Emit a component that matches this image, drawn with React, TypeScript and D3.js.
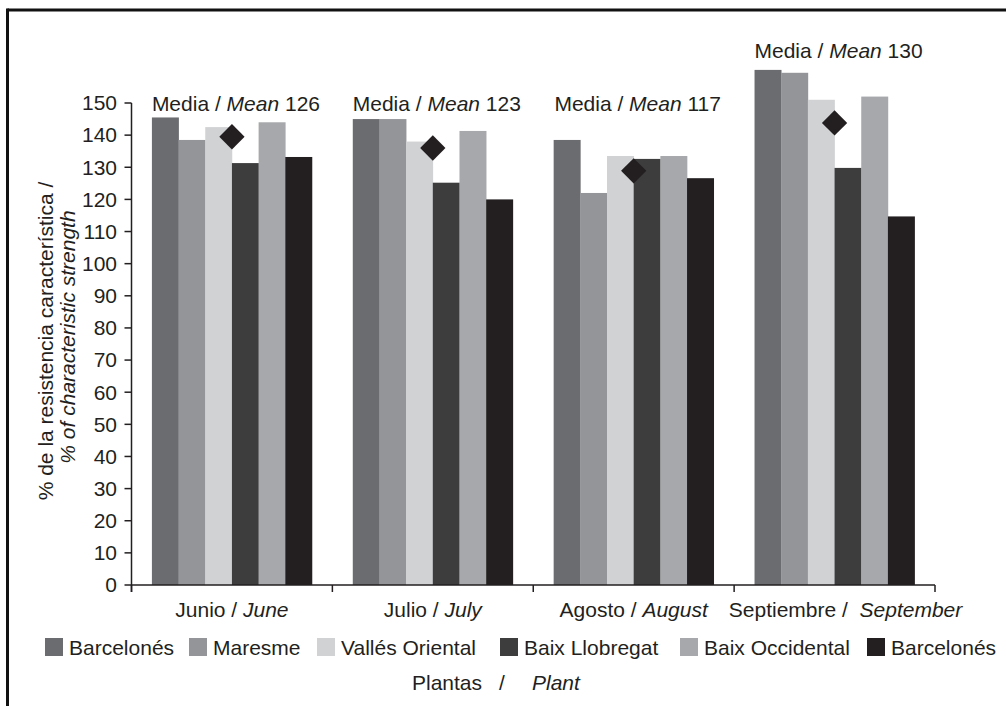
import React from "react";
import * as d3 from "d3";

const months = ["Junio", "Julio", "Agosto", "Septiembre"];
const monthsEs = ["Junio /", "Julio /", "Agosto /", "Septiembre /"];
const monthsEn = ["June", "July", "August", "September"];
const seriesNames = ["Barcelonés", "Maresme", "Vallés Oriental", "Baix Llobregat", "Baix Occidental", "Barcelonés"];
const seriesColors = ["#6b6c70", "#949598", "#d1d2d4", "#3d3d3e", "#a7a8ab", "#231f20"];
const barcelones1 = [145.5, 145, 138.5, 160.3];
const maresme = [138.5, 145, 122, 159.4];
const vallesOriental = [142.5, 138, 133.5, 151];
const baixLlobregat = [131.3, 125.2, 132.6, 129.8];
const baixOccidental = [144, 141.3, 133.5, 152];
const barcelones2 = [133.2, 120, 126.6, 114.7];
const seriesValues = [barcelones1, maresme, vallesOriental, baixLlobregat, baixOccidental, barcelones2];
const meanMarker = [139.5, 136, 128.9, 143.8];
const meanLabels = [126, 123, 117, 130];
const yTicks = d3.range(0, 151, 10);

const W = 1006, H = 706;
const FONT = "'Liberation Sans', Arial, Helvetica, sans-serif";
const FS = 21;
const INK = "#231f20";
const plot = { left: 131.5, right: 935, top: 103, bottom: 585 };
const legendX = [45, 189, 317, 500, 680, 867];

export default function App() {
  const x0 = d3.scaleBand<string>().domain(months).range([plot.left, plot.right]).padding(0);
  const x1 = d3.scaleBand<number>().domain(d3.range(seriesNames.length)).range([0, x0.bandwidth()]).paddingInner(0).paddingOuter(0.765);
  const y = d3.scaleLinear().domain([0, 150]).range([plot.bottom, plot.top]);
  const diamond = d3.symbol().type(d3.symbolSquare).size(320)();
  const boundaries = [...months.map((m) => x0(m) as number), plot.right];

  return (
    <svg width={W} height={H} style={{ position: "absolute", left: 0, top: 0, background: "#fff" }} fontFamily={FONT}>
      <rect x={0} y={0} width={W} height={H} fill="#fff" />
      {/* frame */}
      <line x1={7.5} y1={10} x2={W} y2={10} stroke="#111" strokeWidth={3} />
      <line x1={7.5} y1={8.5} x2={7.5} y2={H} stroke="#111" strokeWidth={3} />

      {/* bars */}
      {months.map((m, gi) => (
        <g key={m} transform={`translate(${x0(m)},0)`}>
          {seriesValues.map((vals, si) => (
            <rect key={si} x={x1(si)} y={y(vals[gi])} width={x1.bandwidth() + 0.3} height={y(0) - y(vals[gi])} fill={seriesColors[si]} />
          ))}
        </g>
      ))}

      {/* mean markers */}
      {months.map((m, gi) => (
        <path key={m} d={diamond as string} fill={INK}
          transform={`translate(${(x0(m) as number) + x0.bandwidth() / 2},${y(meanMarker[gi])}) rotate(45)`} />
      ))}

      {/* mean labels */}
      {months.map((m, gi) => {
        const mx = d3.max(seriesValues, (s) => s[gi]) as number;
        const by = mx > 150 ? y(mx) - 12 : y(150) + 8;
        return (
          <text key={m} x={(x0(m) as number) + x0.bandwidth() / 2 + 4} y={by} textAnchor="middle" fontSize={FS} fill={INK}>
            Media / <tspan fontStyle="italic">Mean</tspan> {meanLabels[gi]}
          </text>
        );
      })}

      {/* y axis */}
      <line x1={plot.left} y1={y(150)} x2={plot.left} y2={plot.bottom + 7} stroke={INK} strokeWidth={1.5} />
      {yTicks.map((t) => (
        <g key={t}>
          <line x1={plot.left - 7} x2={plot.left} y1={y(t)} y2={y(t)} stroke={INK} strokeWidth={1.5} />
          <text x={117} y={y(t)} dy="0.35em" textAnchor="end" fontSize={FS} fill={INK}>{t}</text>
        </g>
      ))}

      {/* x axis */}
      <line x1={plot.left} y1={plot.bottom} x2={plot.right} y2={plot.bottom} stroke={INK} strokeWidth={1.5} />
      {boundaries.map((bx, i) => (
        <line key={i} x1={bx} x2={bx} y1={plot.bottom} y2={plot.bottom + 7} stroke={INK} strokeWidth={1.5} />
      ))}
      {months.map((m, gi) => (
        <text key={m} x={(x0(m) as number) + x0.bandwidth() / 2 + (gi === 3 ? 11 : 0)} y={617} textAnchor="middle" fontSize={FS} fill={INK} style={{ whiteSpace: "pre" }}>
          {monthsEs[gi] + (gi === 3 ? "  " : " ")}<tspan fontStyle="italic">{monthsEn[gi]}</tspan>
        </text>
      ))}

      {/* y axis title */}
      <g transform={`translate(53,341) rotate(-90)`}>
        <text x={0} y={0} textAnchor="middle" fontSize={FS} fill={INK}>% de la resistencia característica /</text>
      </g>
      <g transform={`translate(75,337) rotate(-90)`}>
        <text x={0} y={0} textAnchor="middle" fontSize={FS} fill={INK} fontStyle="italic">% of characteristic strength</text>
      </g>

      {/* legend */}
      {seriesNames.map((name, si) => (
        <g key={si} transform={`translate(${legendX[si]},638)`}>
          <rect x={0} y={0} width={18} height={18} fill={seriesColors[si]} />
          <text x={24} y={17} fontSize={FS} fill={INK}>{name}</text>
        </g>
      ))}

      {/* x axis title */}
      <text x={412} y={690} fontSize={FS} fill={INK}>Plantas</text>
      <text x={499} y={690} fontSize={FS} fill={INK}>/</text>
      <text x={532} y={690} fontSize={FS} fill={INK} fontStyle="italic">Plant</text>
    </svg>
  );
}
